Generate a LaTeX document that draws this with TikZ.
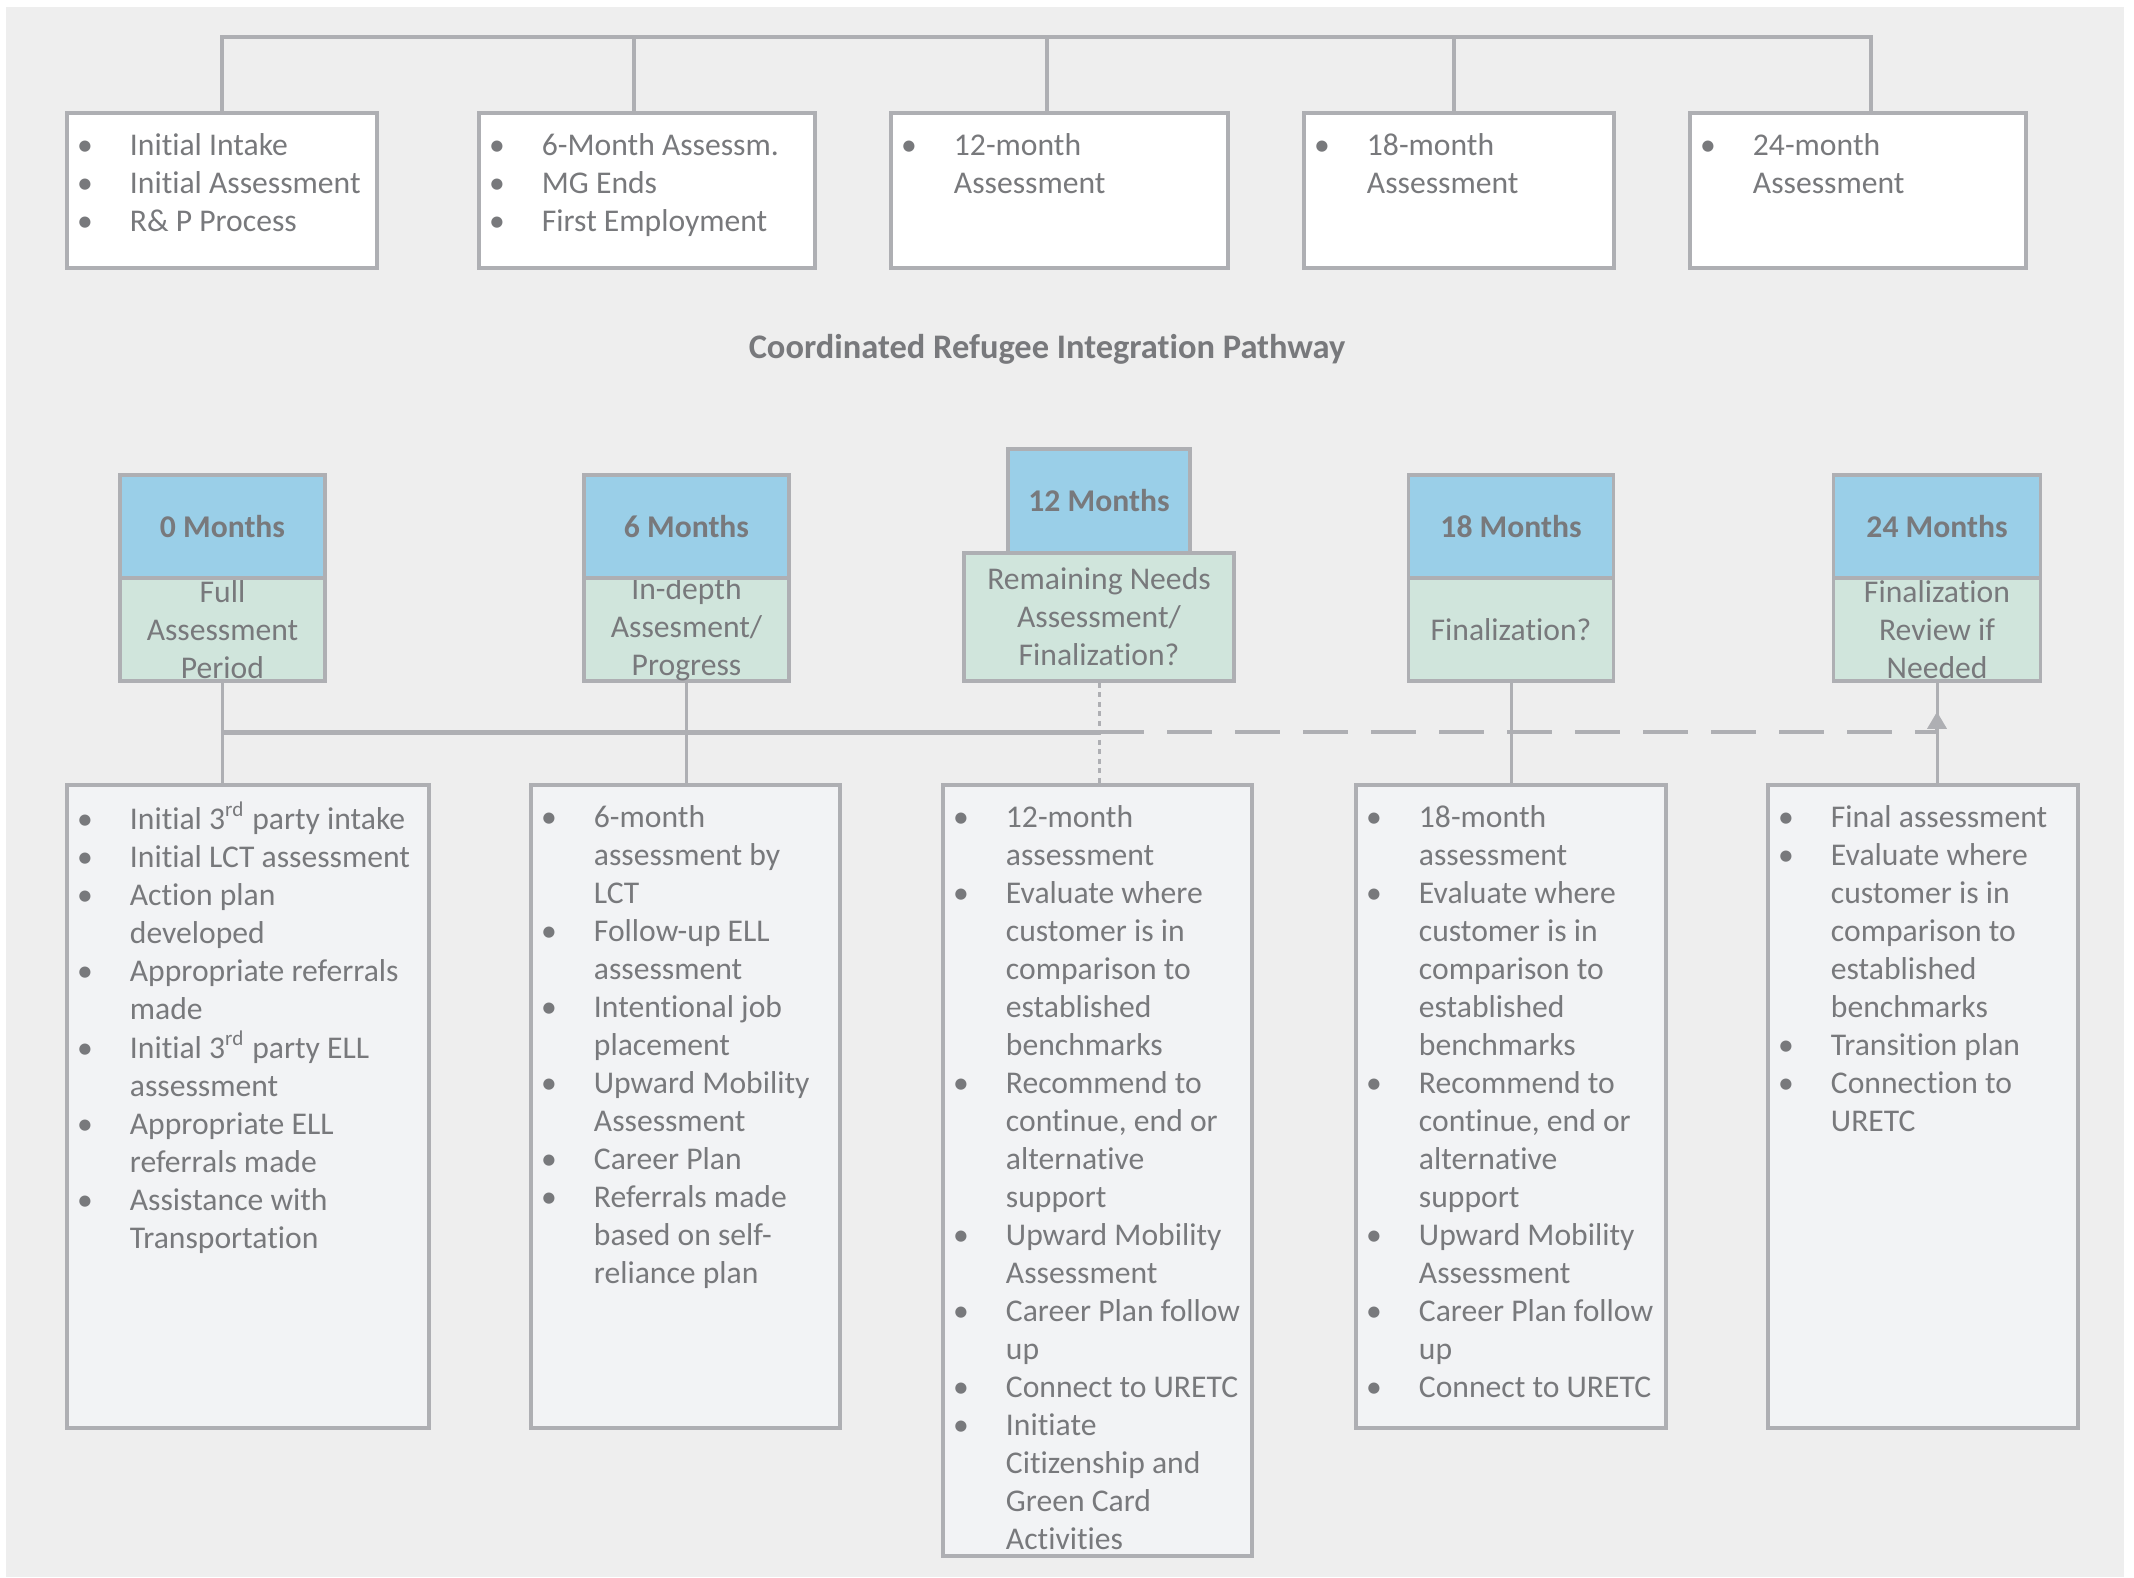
\documentclass[tikz,border=0pt]{standalone}
\usepackage{fontspec}
\setmainfont{Carlito}[Ligatures=CommonOff]
\usetikzlibrary{arrows.meta}
\definecolor{bggray}{RGB}{238,238,238}
\definecolor{linegray}{RGB}{174,175,179}
\definecolor{txtgray}{RGB}{120,121,124}
\definecolor{hdblue}{RGB}{154,207,232}
\definecolor{stgreen}{RGB}{208,229,220}
\definecolor{boxfill}{RGB}{242,243,245}
\newcommand{\itm}[1]{\makebox[6.4mm][l]{\hspace*{1.9mm}\makebox[0pt]{\textbullet}}#1\\}
\newcommand{\cnt}[1]{\hspace*{6.4mm}#1\\}
\newcommand{\rd}{\textsuperscript{rd}}
\begin{document}
\begin{tikzpicture}[x=0.1mm,y=-0.1mm,
  tree/.style={draw=linegray,line width=0.4mm},
  link/.style={draw=linegray,line width=0.3mm},
  rail/.style={draw=linegray,line width=0.5mm},
  railgap/.style={draw=linegray,line width=0.33mm,dash pattern=on 4.5mm off 2.3mm},
  dots/.style={draw=linegray,line width=0.3mm,dash pattern=on 0.5mm off 0.45mm},
  topbox/.style={draw=linegray,line width=0.35mm,fill=white,inner sep=0pt,minimum height=15.5mm},
  hdr/.style={draw=linegray,line width=0.35mm,fill=hdblue,text=txtgray,inner sep=0pt,
    font=\fontsize{9}{10.8}\selectfont\bfseries,minimum height=10.3mm},
  stage/.style={draw=linegray,line width=0.35mm,fill=stgreen,text=txtgray,inner sep=0pt,
    font=\fontsize{9}{10.8}\selectfont,align=center,minimum height=10.3mm},
  actbox/.style={draw=linegray,line width=0.35mm,fill=boxfill,inner sep=0pt,minimum height=64.3mm},
  lst/.style={anchor=north west,inner sep=0pt,text=txtgray,font=\fontsize{9}{10.8}\selectfont},
  title/.style={text=txtgray,font=\fontsize{9.8}{11.8}\selectfont\bfseries}]
\useasboundingbox (0,0) rectangle (2134,1577);
\fill[bggray] (6,7) rectangle (2124,1577);

% top row
\node[topbox,minimum width=31mm] (t1) at (222,190.5) {};
\node[topbox,minimum width=33.6mm] (t2) at (647,190.5) {};
\node[topbox,minimum width=33.7mm] (t3) at (1059.5,190.5) {};
\node[topbox,minimum width=31mm] (t4) at (1459,190.5) {};
\node[topbox,minimum width=33.6mm] (t5) at (1858,190.5) {};
\coordinate (barR) at (1871,37);
\draw[tree] (t1.north) |- (barR) -- (barR |- t5.north);
\draw[tree] ([xshift=-1.3mm]t2.north) -- ++(0,-76);
\draw[tree] ([xshift=-1.25mm]t3.north) -- ++(0,-76);
\draw[tree] ([xshift=-0.5mm]t4.north) -- ++(0,-76);
\node[lst] (tl1) at ([yshift=-1.74mm]t1.north west) {\begin{tabular}{@{}l@{}}
\itm{Initial Intake}\itm{Initial Assessment}\itm{R\& P Process}\end{tabular}};
\node[lst] (tl2) at ([yshift=-1.74mm]t2.north west) {\begin{tabular}{@{}l@{}}
\itm{6-Month Assessm.}\itm{MG Ends}\itm{First Employment}\end{tabular}};
\node[lst] (tl3) at ([yshift=-1.74mm]t3.north west) {\begin{tabular}{@{}l@{}}
\itm{12-month}\cnt{Assessment}\end{tabular}};
\node[lst] (tl4) at ([yshift=-1.74mm]t4.north west) {\begin{tabular}{@{}l@{}}
\itm{18-month}\cnt{Assessment}\end{tabular}};
\node[lst] (tl5) at ([yshift=-1.74mm]t5.north west) {\begin{tabular}{@{}l@{}}
\itm{24-month}\cnt{Assessment}\end{tabular}};

\node[title] (ttl) at (1047,349) {Coordinated Refugee Integration Pathway};

% milestones
\node[stage,minimum width=20.5mm] (s0) at (222.5,629.5) {Full\\Assessment\\Period};
\node[hdr,minimum width=20.5mm] (h0) at (222.5,526.5) {0 Months};
\node[stage,minimum width=20.5mm] (s6) at (686.5,629.5) {In-depth\\Assesment/\\Progress};
\node[hdr,minimum width=20.5mm] (h6) at (686.5,526.5) {6 Months};
\node[stage,minimum width=27mm,minimum height=12.8mm] (s12) at (1099,617) {Remaining Needs\\Assessment/\\Finalization?};
\node[hdr,minimum width=18.2mm,minimum height=10.4mm] (h12) at (1099,501) {12 Months};
\node[stage,minimum width=20.5mm] (s18) at (1511,629.5) {Finalization?};
\node[hdr,minimum width=20.5mm] (h18) at (1511,526.5) {18 Months};
\node[stage,minimum width=20.7mm] (s24) at (1937,629.5) {Finalization\\Review if\\Needed};
\node[hdr,minimum width=20.7mm] (h24) at (1937,526.5) {24 Months};

% activity boxes
\node[actbox,minimum width=36.2mm] (b1) at (248,1106.5) {};
\node[actbox,minimum width=30.9mm] (b2) at (685.5,1106.5) {};
\node[actbox,minimum width=30.9mm,minimum height=77.1mm] (b3) at (1097.5,1170.5) {};
\node[actbox,minimum width=31mm] (b4) at (1511,1106.5) {};
\node[actbox,minimum width=31mm] (b5) at (1923,1106.5) {};

\coordinate (jy) at (0,732);
\draw[link] (s0.south) -- (s0.south |- b1.north);
\draw[link] (s6.south) -- (s6.south |- b2.north);
\draw[link] (s18.south) -- (s18.south |- b4.north);
\draw[link] (s24.south) -- (s24.south |- b5.north);
\draw[dots] (s12.south) -- (s12.south |- b3.north);
\draw[rail] (s0.south |- jy) -- (s12.south |- jy);
\draw[railgap,-{Triangle[width=1.9mm,length=1.7mm]}] (s12.south |- jy) -| ([yshift=-2.9mm]s24.south);

\node[lst] (l1) at ([yshift=-1.74mm]b1.north west) {\begin{tabular}{@{}l@{}}
\itm{Initial 3\rd{} party intake}
\itm{Initial LCT assessment}
\itm{Action plan}\cnt{developed}
\itm{Appropriate referrals}\cnt{made}
\itm{Initial 3\rd{} party ELL}\cnt{assessment}
\itm{Appropriate ELL}\cnt{referrals made}
\itm{Assistance with}\cnt{Transportation}
\end{tabular}};
\node[lst] (l2) at ([yshift=-1.74mm]b2.north west) {\begin{tabular}{@{}l@{}}
\itm{6-month}\cnt{assessment by}\cnt{LCT}
\itm{Follow-up ELL}\cnt{assessment}
\itm{Intentional job}\cnt{placement}
\itm{Upward Mobility}\cnt{Assessment}
\itm{Career Plan}
\itm{Referrals made}\cnt{based on self-}\cnt{reliance plan}
\end{tabular}};
\node[lst] (l3) at ([yshift=-1.74mm]b3.north west) {\begin{tabular}{@{}l@{}}
\itm{12-month}\cnt{assessment}
\itm{Evaluate where}\cnt{customer is in}\cnt{comparison to}\cnt{established}\cnt{benchmarks}
\itm{Recommend to}\cnt{continue, end or}\cnt{alternative}\cnt{support}
\itm{Upward Mobility}\cnt{Assessment}
\itm{Career Plan follow}\cnt{up}
\itm{Connect to URETC}
\itm{Initiate}\cnt{Citizenship and}\cnt{Green Card}\cnt{Activities}
\end{tabular}};
\node[lst] (l4) at ([yshift=-1.74mm]b4.north west) {\begin{tabular}{@{}l@{}}
\itm{18-month}\cnt{assessment}
\itm{Evaluate where}\cnt{customer is in}\cnt{comparison to}\cnt{established}\cnt{benchmarks}
\itm{Recommend to}\cnt{continue, end or}\cnt{alternative}\cnt{support}
\itm{Upward Mobility}\cnt{Assessment}
\itm{Career Plan follow}\cnt{up}
\itm{Connect to URETC}
\end{tabular}};
\node[lst] (l5) at ([yshift=-1.74mm]b5.north west) {\begin{tabular}{@{}l@{}}
\itm{Final assessment}
\itm{Evaluate where}\cnt{customer is in}\cnt{comparison to}\cnt{established}\cnt{benchmarks}
\itm{Transition plan}
\itm{Connection to}\cnt{URETC}
\end{tabular}};
\end{tikzpicture}
\end{document}
